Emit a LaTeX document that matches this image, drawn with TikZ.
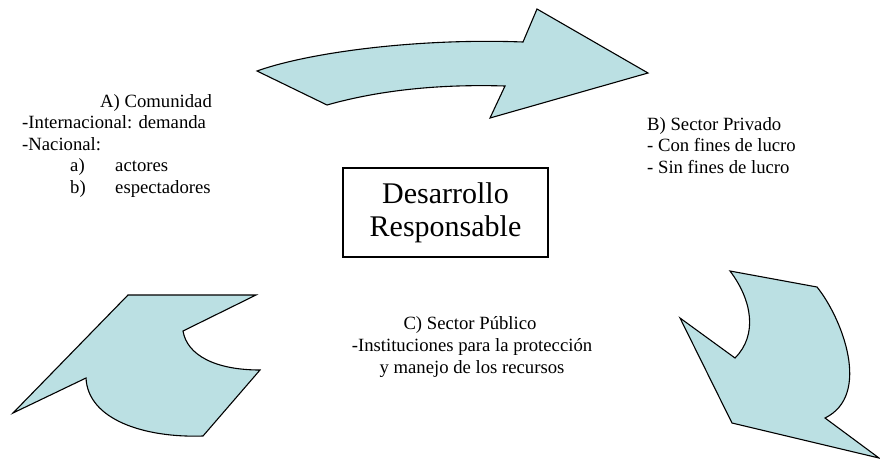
\documentclass[tikz,border=0pt]{standalone}
\usepackage{fontspec}
\setmainfont{Liberation Serif}
\newfontfamily\tnr{Liberation Serif}
\definecolor{arrowfill}{RGB}{187,224,227}
\tikzset{
  bigarrow/.style={draw=black, fill=arrowfill, line width=1.1pt, line join=miter},
  smalltext/.style={inner sep=0pt, font=\tnr\fontsize{18.7}{21.5}\selectfont},
  centerbox/.style={draw=black, line width=1.1pt, minimum width=205pt, minimum height=89pt, inner sep=0pt, align=center, font=\tnr\fontsize{30}{33}\selectfont}
}
\begin{document}
\begin{tikzpicture}[x=1pt,y=-1pt]
\useasboundingbox (0,0) rectangle (880,464);
% top arrow
\draw[bigarrow] (257,71) .. controls (310,52) and (420,38) .. (523,42) -- (537,9) -- (648,73) -- (490,118) -- (505,86) .. controls (440,84) and (380,90) .. (327,105) -- cycle;
% bottom-left arrow
\draw[bigarrow] (128,295) -- (256,295) -- (183,331) .. controls (187,355) and (215,370) .. (260,370) -- (203,436) .. controls (145,438) and (88,420) .. (86,378) -- (13,413) -- cycle;
% bottom-right arrow
\draw[bigarrow] (730,271) -- (817,287) .. controls (842,318) and (872,395) .. (825,418) -- (879,458) -- (732,423) -- (680,318) -- (735,358) .. controls (758,335) and (752,300) .. (730,271) -- cycle;
% center box
\node[centerbox] (dr) at (445.5,212.5) {Desarrollo\\Responsable};
% A text
\node[smalltext, anchor=base west] (a1) at (100,107) {A) Comunidad};
\node[smalltext, anchor=base west] (a2) at (22,128.5) {-Internacional: demanda};
\node[smalltext, anchor=base west] (a3) at (22,150) {-Nacional:};
\node[smalltext, anchor=base west] (a4) at (70,171.5) {a)};
\node[smalltext, anchor=base west] (a5) at (115,171.5) {actores};
\node[smalltext, anchor=base west] (a6) at (70,193) {b)};
\node[smalltext, anchor=base west] (a7) at (115,193) {espectadores};
% B text
\node[smalltext, anchor=base west] (b1) at (647,130) {B) Sector Privado};
\node[smalltext, anchor=base west] (b2) at (647,151.5) {- Con fines de lucro};
\node[smalltext, anchor=base west] (b3) at (647,173) {- Sin fines de lucro};
% C text
\node[smalltext, anchor=base] (c1) at (470,329) {C) Sector Público};
\node[smalltext, anchor=base] (c2) at (472,351) {-Instituciones para la protección};
\node[smalltext, anchor=base] (c3) at (472,373) {y manejo de los recursos};
\end{tikzpicture}
\end{document}
